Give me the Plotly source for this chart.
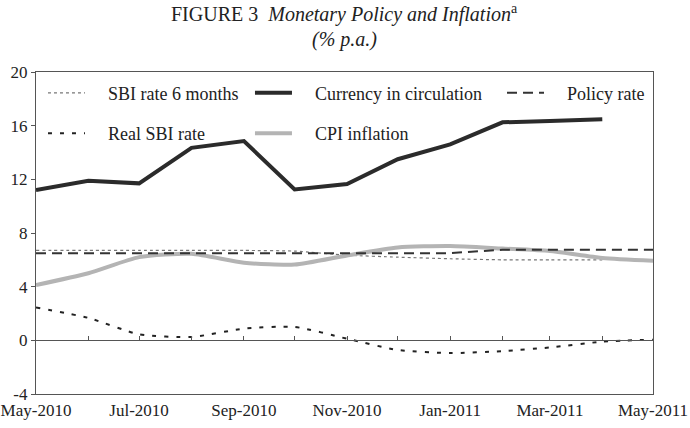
import plotly.graph_objects as go

months = ['2010-05-01', '2010-06-01', '2010-07-01', '2010-08-01', '2010-09-01', '2010-10-01',
          '2010-11-01', '2010-12-01', '2011-01-01', '2011-02-01', '2011-03-01', '2011-04-01',
          '2011-05-01']
sbi_6m = [6.7, 6.7, 6.7, 6.7, 6.7, 6.65, 6.35, 6.2, 6.08, 6.0, 6.0, 6.0]
currency = [11.2, 11.9, 11.7, 14.35, 14.85, 11.25, 11.65, 13.5, 14.6, 16.25, 16.35, 16.47]
policy = [6.5, 6.5, 6.5, 6.5, 6.5, 6.5, 6.5, 6.5, 6.5, 6.75, 6.75, 6.75, 6.75]
real_sbi = [2.45, 1.67, 0.45, 0.25, 0.87, 1.0, 0.12, -0.72, -0.95, -0.8, -0.53, -0.1, 0.05]
cpi = [4.12, 5.0, 6.2, 6.45, 5.78, 5.65, 6.33, 6.92, 7.03, 6.84, 6.66, 6.14, 5.93]

x_tickvals = ['2010-05-01', '2010-07-01', '2010-09-01', '2010-11-01', '2011-01-01',
              '2011-03-01', '2011-05-01']
x_ticktext = ['May-2010', 'Jul-2010', 'Sep-2010', 'Nov-2010', 'Jan-2011', 'Mar-2011', 'May-2011']
y_tickvals = [-4, 0, 4, 8, 12, 16, 20]
y_ticktext = ['-4', '0', '4', '8', '12', '16', '20']

FONT = 'Liberation Serif'
AX = '#555555'
PAD = '\u00a0' * 4

fig = go.Figure()
fig.add_trace(go.Scatter(x=months[:len(sbi_6m)], y=sbi_6m, name=PAD + 'SBI rate 6 months', mode='lines',
                         line=dict(color='#777777', width=1.2, dash='dot', shape='spline', smoothing=0.6),
                         legend='legend', legendgroup='a'))
fig.add_trace(go.Scatter(x=months, y=real_sbi, name=PAD + 'Real SBI rate', mode='lines',
                         line=dict(color='#222222', width=2, dash='4px,8px', shape='spline', smoothing=0.6),
                         legend='legend', legendgroup='b'))
fig.add_trace(go.Scatter(x=months[:len(currency)], y=currency, name=PAD + 'Currency in circulation',
                         mode='lines', line=dict(color='#2b2b2b', width=4),
                         legend='legend2', legendgroup='c'))
fig.add_trace(go.Scatter(x=months, y=cpi, name=PAD + 'CPI inflation', mode='lines',
                         line=dict(color='#b4b4b4', width=4, shape='spline', smoothing=0.6),
                         legend='legend2', legendgroup='d'))
fig.add_trace(go.Scatter(x=months, y=policy, name=PAD + 'Policy rate', mode='lines',
                         line=dict(color='#333333', width=2, dash='10px,6px'),
                         legend='legend3', legendgroup='e'))
# invisible trace to host the zero-line axis with monthly ticks
fig.add_trace(go.Scatter(x=months, y=[0] * len(months), xaxis='x2', yaxis='y', mode='lines',
                         line=dict(width=0), showlegend=False, hoverinfo='skip'))

leg_common = dict(orientation='v', yanchor='top', y=0.992, xanchor='left',
                  bgcolor='rgba(0,0,0,0)', borderwidth=0, itemwidth=37,
                  font=dict(family=FONT, size=18, color='#222222'),
                  tracegroupgap=14, traceorder='grouped')

fig.update_layout(
    width=690, height=428,
    margin=dict(l=36, r=37, t=72, b=34),
    paper_bgcolor='white', plot_bgcolor='white',
    font=dict(family=FONT, size=17, color='#222222'),
    xaxis=dict(type='date', range=['2010-05-01', '2011-05-01'], tickvals=x_tickvals,
               ticktext=x_ticktext, showgrid=False, zeroline=False, showline=True,
               linecolor=AX, linewidth=1.2, mirror=True, ticks='', tickfont=dict(size=17),
               automargin=False),
    xaxis2=dict(type='date', range=['2010-05-01', '2011-05-01'], overlaying='x', anchor='free',
                position=1 / 6, side='bottom', showline=True, linecolor=AX, linewidth=1.2,
                ticks='inside', ticklen=4, tickcolor=AX, dtick='M1', tick0='2010-05-01',
                showticklabels=False, showgrid=False, zeroline=False, automargin=False),
    yaxis=dict(range=[-4, 20], tickvals=y_tickvals, ticktext=y_ticktext, showgrid=False,
               zeroline=False, showline=True, linecolor=AX, linewidth=1.2, mirror=True,
               ticks='outside', ticklen=4, tickcolor=AX, tickfont=dict(size=17), automargin=False),
    legend=dict(x=0.0113, **leg_common),
    legend2=dict(x=0.3468, **leg_common),
    legend3=dict(x=0.7553, **leg_common),
    showlegend=True,
    annotations=[
        dict(text='FIGURE 3  <i>Monetary Policy and Inflation</i><sup>a</sup>',
             x=0.5, xref='paper', y=1, yref='paper', xanchor='center', yanchor='middle',
             yshift=59, showarrow=False, font=dict(family=FONT, size=20, color='#222222')),
        dict(text='<i>(% p.a.)</i>',
             x=0.5, xref='paper', y=1, yref='paper', xanchor='center', yanchor='middle',
             yshift=33, showarrow=False, font=dict(family=FONT, size=20, color='#222222')),
    ],
)

fig.write_html('out.html')
